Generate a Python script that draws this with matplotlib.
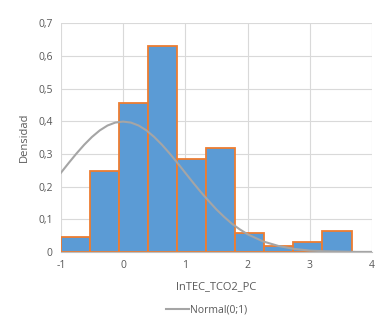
import matplotlib.pyplot as plt
from matplotlib.ticker import FuncFormatter

# Histogram data (bin edges start at -1, equal width)
bin_start = -1.0
bin_width = 0.467
densities = [0.046, 0.249, 0.457, 0.631, 0.284, 0.317, 0.057, 0.018, 0.030, 0.065]

# Normal(0;1) curve
curve_x = [-1, -0.875, -0.75, -0.625, -0.5, -0.375, -0.25, -0.125, 0, 0.125, 0.25, 0.375,
           0.5, 0.625, 0.75, 0.875, 1, 1.125, 1.25, 1.375, 1.5, 1.625, 1.75, 1.875, 2,
           2.25, 2.5, 2.75, 3, 3.25, 3.5, 3.75, 4]
curve_y = [0.242, 0.272, 0.301, 0.328, 0.352, 0.372, 0.387, 0.396, 0.399, 0.396, 0.387, 0.372,
           0.352, 0.328, 0.301, 0.272, 0.242, 0.212, 0.183, 0.156, 0.130, 0.107, 0.086, 0.069, 0.054,
           0.032, 0.018, 0.009, 0.004, 0.002, 0.001, 0.0, 0.0]

x_ticks = [-1, 0, 1, 2, 3, 4]
y_ticks = [0, 0.1, 0.2, 0.3, 0.4, 0.5, 0.6, 0.7]

TEXT_COLOR = '#595959'
GRID_COLOR = '#d9d9d9'

plt.rcParams['font.family'] = ['Open Sans', 'DejaVu Sans']
plt.rcParams['axes.unicode_minus'] = False

fig = plt.figure(figsize=(3.9, 3.28), dpi=100)
ax = fig.add_axes([0.156, 0.232, 0.798, 0.697])

lefts = [bin_start + i * bin_width for i in range(len(densities))]
ax.bar(lefts, densities, width=bin_width, align='edge', color='#5b9bd5',
       edgecolor='#ed7d31', linewidth=1.3, zorder=2)

line, = ax.plot(curve_x, curve_y, color='#a5a5a5', linewidth=1.5, zorder=3,
                label='Normal(0;1)')

ax.set_xlim(-1, 4)
ax.set_ylim(0, 0.7)
ax.set_xticks(x_ticks)
ax.set_yticks(y_ticks)
ax.yaxis.set_major_formatter(FuncFormatter(lambda v, p: '0' if v == 0 else f'{v:.1f}'.replace('.', ',')))

ax.grid(True, color=GRID_COLOR, linewidth=0.8, zorder=0)
ax.set_axisbelow(True)
for side in ['top', 'right', 'left']:
    ax.spines[side].set_visible(False)
ax.spines['bottom'].set_color('#bfbfbf')
ax.tick_params(length=0, labelsize=7.5, colors=TEXT_COLOR, pad=6)

ax.set_xlabel('lnTEC_TCO2_PC', fontsize=8, color=TEXT_COLOR, labelpad=7)
ax.set_ylabel('Densidad', fontsize=8, color=TEXT_COLOR, labelpad=6)

fig.legend(handles=[line], loc='center', bbox_to_anchor=(0.53, 0.055), frameon=False,
           fontsize=7.5, labelcolor=TEXT_COLOR, handlelength=2.2, handletextpad=0.1)

fig.savefig('out.png', dpi=100)
